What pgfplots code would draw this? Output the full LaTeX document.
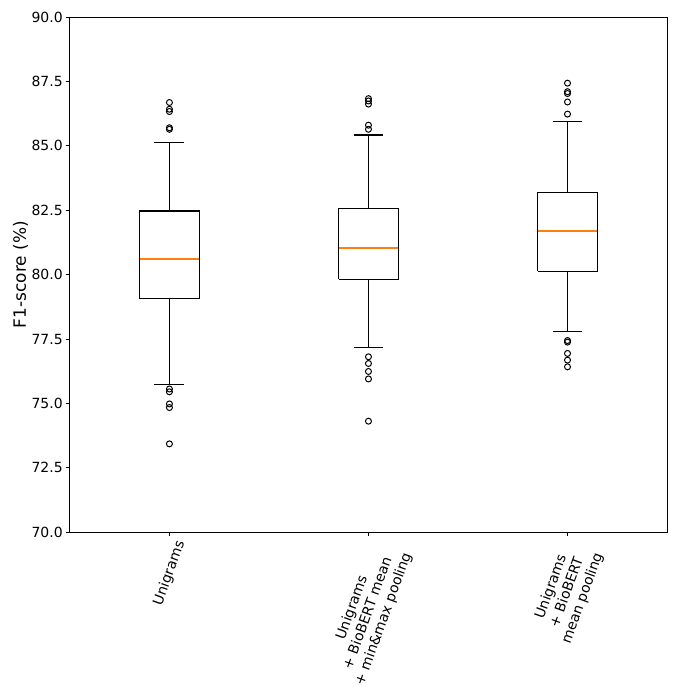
\documentclass[border=0pt]{standalone}
\usepackage{graphicx}
\usepackage{fontspec}
\setmainfont{DejaVu Sans}
\usepackage{pgfplots}
\pgfplotsset{compat=1.18}
\definecolor{mplorange}{RGB}{255,127,14}

\pgfplotsset{
  boxline/.style={black, line width=1.1bp, no marks},
  medline/.style={mplorange, line width=1.5bp, no marks},
  fliers/.style={only marks, mark=o, mark size=3bp,
    mark options={black, line width=1bp, fill=none, solid}},
}

\begin{document}
\begin{tikzpicture}
\begin{axis}[
    name=ax,
    width=598bp, height=516bp, scale only axis,
    xmin=0.5, xmax=3.5, ymin=70, ymax=90,
    xtick={1,2,3},
    xticklabels={
      {\rotatebox{70}{Unigrams}},
      {\rotatebox{70}{\begin{tabular}{@{}c@{}}Unigrams\\+ BioBERT mean\\+ min\&max pooling\end{tabular}}},
      {\rotatebox{70}{\begin{tabular}{@{}c@{}}Unigrams\\+ BioBERT\\mean pooling\end{tabular}}}
    },
    xticklabel style={anchor=north, inner sep=0pt, yshift=-3.5bp,
      font=\fontsize{14bp}{16.8bp}\selectfont},
    ytick={70,72.5,75,77.5,80,82.5,85,87.5,90},
    yticklabel style={/pgf/number format/fixed, /pgf/number format/precision=1,
      /pgf/number format/fixed zerofill, /pgf/number format/assume math mode=true,
      inner sep=0pt, xshift=-3.5bp, font=\fontsize{14bp}{16.8bp}\selectfont},
    tick align=outside, tick pos=left,
    major tick length=3.5bp,
    tick style={black, line width=0.8bp},
    axis line style={line width=0.8bp},
    ylabel={F1-score (\%)},
    ylabel style={font=\fontsize{17bp}{20bp}\selectfont},
]
% Unigrams: whiskers 75.74/85.14, quartiles 79.06/82.47, median 80.60
\addplot[boxline] coordinates {(0.85,79.06) (1.15,79.06) (1.15,82.47) (0.85,82.47) (0.85,79.06)};
\addplot[boxline] coordinates {(1,79.06) (1,75.74)};
\addplot[boxline] coordinates {(1,82.47) (1,85.14)};
\addplot[boxline] coordinates {(0.925,75.74) (1.075,75.74)};
\addplot[boxline] coordinates {(0.925,85.14) (1.075,85.14)};
\addplot[medline] coordinates {(0.85,80.60) (1.15,80.60)};
\addplot[fliers] coordinates {(1,86.68) (1,86.42) (1,86.33) (1,85.70) (1,85.64)
  (1,75.56) (1,75.45) (1,74.98) (1,74.84) (1,73.43)};
% Unigrams + BioBERT mean + min&max pooling
\addplot[boxline] coordinates {(1.85,79.82) (2.15,79.82) (2.15,82.55) (1.85,82.55) (1.85,79.82)};
\addplot[boxline] coordinates {(2,79.82) (2,77.16)};
\addplot[boxline] coordinates {(2,82.55) (2,85.42)};
\addplot[boxline] coordinates {(1.925,77.16) (2.075,77.16)};
\addplot[boxline] coordinates {(1.925,85.42) (2.075,85.42)};
\addplot[medline] coordinates {(1.85,81.03) (2.15,81.03)};
\addplot[fliers] coordinates {(2,86.83) (2,86.74) (2,86.62) (2,85.80) (2,85.64)
  (2,76.81) (2,76.55) (2,76.24) (2,75.95) (2,74.31)};
% Unigrams + BioBERT mean pooling
\addplot[boxline] coordinates {(2.85,80.13) (3.15,80.13) (3.15,83.17) (2.85,83.17) (2.85,80.13)};
\addplot[boxline] coordinates {(3,80.13) (3,77.80)};
\addplot[boxline] coordinates {(3,83.17) (3,85.96)};
\addplot[boxline] coordinates {(2.925,77.80) (3.075,77.80)};
\addplot[boxline] coordinates {(2.925,85.96) (3.075,85.96)};
\addplot[medline] coordinates {(2.85,81.70) (3.15,81.70)};
\addplot[fliers] coordinates {(3,87.43) (3,87.10) (3,87.03) (3,86.70) (3,86.23)
  (3,77.44) (3,77.38) (3,76.94) (3,76.68) (3,76.42)};
\end{axis}
\path ([xshift=-70bp,yshift=-155bp]ax.south west) rectangle ([xshift=16bp,yshift=17bp]ax.north east);
\end{tikzpicture}
\end{document}
